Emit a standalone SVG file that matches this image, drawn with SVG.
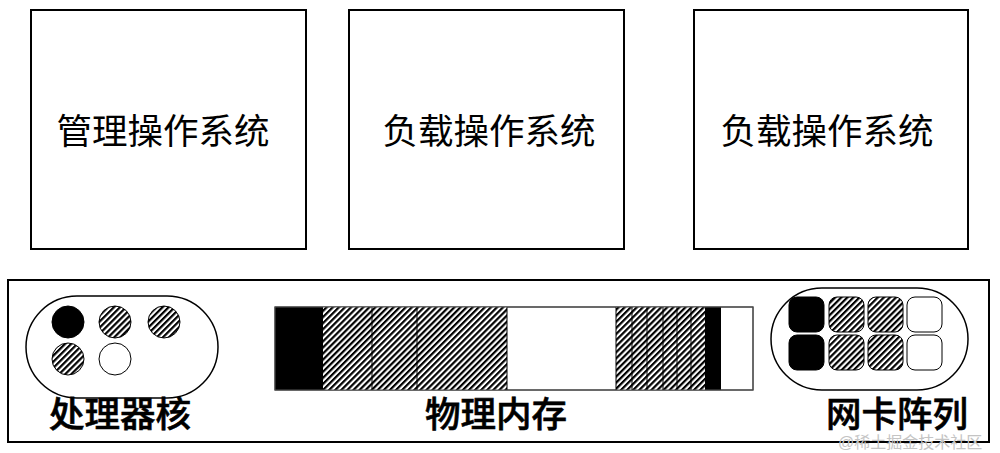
<svg xmlns="http://www.w3.org/2000/svg" width="1000" height="453" viewBox="0 0 1000 453">
<defs>
<pattern id="hatch" patternUnits="userSpaceOnUse" width="4.3" height="4.3" patternTransform="rotate(45)">
<rect x="0" y="0" width="4.3" height="4.3" fill="#fff"/>
<rect x="0" y="0" width="2.2" height="4.3" fill="#000"/>
</pattern>
</defs>
<style>
.box{fill:#fff;stroke:#000;stroke-width:2}
.thin{stroke:#000;stroke-width:1}
.lbl{font-family:"Liberation Serif","Noto Sans CJK SC",serif;font-size:35.5px;fill:#000;text-anchor:middle}
.big{font-family:"Liberation Serif","Noto Sans CJK SC",serif;font-size:35.5px;fill:#000;font-weight:500;stroke:#000;stroke-width:0.6}
.h{fill:url(#hatch)}
</style>
<rect width="1000" height="453" fill="#fff"/>
<g id="os1"><rect class="box" x="31" y="10" width="275" height="239"/><text class="lbl" x="163" y="144">管理操作系统</text></g>
<g id="os2"><rect class="box" x="349" y="10" width="275" height="239"/><text class="lbl" x="489" y="144">负载操作系统</text></g>
<g id="os3"><rect class="box" x="694" y="10" width="274" height="239"/><text class="lbl" x="827" y="144">负载操作系统</text></g>
<g id="hardware"><rect class="box" x="8" y="280" width="981" height="162"/></g>
<g id="cpu">
<rect x="26" y="296" width="192" height="102" rx="51" fill="#fff" stroke="#000" stroke-width="1.5"/>
<circle cx="68" cy="322" r="16" fill="#000" stroke="#000"/>
<circle cx="115" cy="322" r="16" class="h thin"/>
<circle cx="164" cy="322" r="16" class="h thin"/>
<circle cx="68" cy="359" r="16" class="h thin"/>
<circle cx="115" cy="359" r="16" fill="#fff" class="thin"/>
<text class="big" x="49" y="427">处理器核</text>
</g>
<g id="memory">
<rect x="275" y="307" width="478" height="83" fill="#fff" class="thin"/>
<rect x="275" y="307" width="48" height="83" fill="#000"/>
<rect x="323" y="307" width="184" height="83" class="h"/>
<rect x="616" y="307" width="89" height="83" class="h"/>
<rect x="705" y="307" width="16" height="83" fill="#000"/>
<g class="thin"><line x1="372" y1="307" x2="372" y2="390"/><line x1="417" y1="307" x2="417" y2="390"/><line x1="507" y1="307" x2="507" y2="390"/><line x1="616" y1="307" x2="616" y2="390"/><line x1="632" y1="307" x2="632" y2="390"/><line x1="647" y1="307" x2="647" y2="390"/><line x1="663" y1="307" x2="663" y2="390"/><line x1="677" y1="307" x2="677" y2="390"/><line x1="691" y1="307" x2="691" y2="390"/></g>
<rect x="275" y="307" width="478" height="83" fill="none" stroke="#555" stroke-width="1"/>
<text class="big" x="425" y="427">物理内存</text>
</g>
<g id="nic">
<rect x="771" y="288" width="197" height="102" rx="51" fill="#fff" stroke="#000" stroke-width="1.5"/>
<rect x="789" y="297" width="35" height="35" rx="8" fill="#000" stroke="#000"/>
<rect x="829" y="297" width="35" height="35" rx="8" class="h thin"/>
<rect x="868" y="297" width="35" height="35" rx="8" class="h thin"/>
<rect x="907" y="297" width="35" height="35" rx="8" fill="#fff" class="thin"/>
<rect x="789" y="335" width="35" height="35" rx="8" fill="#000" stroke="#000"/>
<rect x="829" y="335" width="35" height="35" rx="8" class="h thin"/>
<rect x="868" y="335" width="35" height="35" rx="8" class="h thin"/>
<rect x="907" y="335" width="35" height="35" rx="8" fill="#fff" class="thin"/>
<text class="big" x="826" y="427">网卡阵列</text>
</g>
<text x="838" y="448" font-family="Liberation Sans,'Noto Sans CJK SC',sans-serif" font-size="16" fill="#c4c4c4">@稀土掘金技术社区</text>
</svg>
